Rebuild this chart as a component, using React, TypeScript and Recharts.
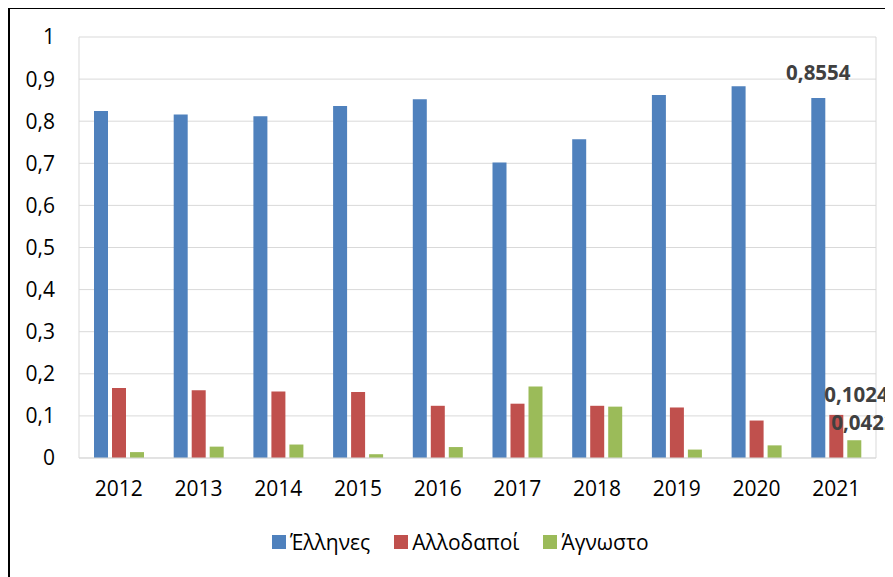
import { Bar, BarChart, CartesianGrid, LabelList, XAxis, YAxis } from 'recharts';

const years = ['2012', '2013', '2014', '2015', '2016', '2017', '2018', '2019', '2020', '2021'];
const greeks = [0.824, 0.816, 0.812, 0.836, 0.852, 0.702, 0.757, 0.862, 0.883, 0.8554];
const foreigners = [0.166, 0.161, 0.158, 0.157, 0.124, 0.129, 0.124, 0.12, 0.089, 0.1024];
const unknown = [0.014, 0.027, 0.032, 0.009, 0.026, 0.17, 0.122, 0.02, 0.03, 0.0422];
const yTicks = [0, 0.1, 0.2, 0.3, 0.4, 0.5, 0.6, 0.7, 0.8, 0.9, 1];

// only the last year carries a data label
const labelled = years.length - 1;

const series = [
  { key: 'greeks', label: 'Έλληνες', color: '#4f81bd', dx: 0, dy: -26, anchor: 'middle' },
  { key: 'foreigners', label: 'Αλλοδαποί', color: '#c0504d', dx: -5, dy: -21, anchor: 'start' },
  { key: 'unknown', label: 'Άγνωστο', color: '#9bbb59', dx: -16, dy: -18, anchor: 'start' },
];

const data = years.map((year, i) => ({
  year,
  greeks: greeks[i],
  foreigners: foreigners[i],
  unknown: unknown[i],
  greeksLabel: i === labelled ? greeks[i] : null,
  foreignersLabel: i === labelled ? foreigners[i] : null,
  unknownLabel: i === labelled ? unknown[i] : null,
}));

const fmt = (v: number) => String(v).replace('.', ',');

function makeLabel(dx: number, dy: number, anchor: string) {
  return (props: any) => {
    if (props.value == null) return null;
    const vb = props.viewBox ?? props;
    const x = anchor === 'middle' ? vb.x + vb.width / 2 + dx : vb.x + dx;
    return (
      <text x={x} y={vb.y + dy} textAnchor={anchor} dominantBaseline="central" fill="#404040" fontSize={20.5} fontWeight={700}>
        {fmt(props.value)}
      </text>
    );
  };
}

export default function App() {
  return (
    <div style={{ position: 'relative', marginTop: -1, width: 883, height: 568, borderLeft: '2px solid #000', borderTop: '2px solid #000', fontFamily: '"Open Sans", sans-serif', overflow: 'hidden' }}>
      <BarChart width={883} height={568} data={data} margin={{ top: 28, right: 0, left: 0, bottom: 0 }} barSize={14} barGap={4}>
        <CartesianGrid yAxisId="left" stroke="#d9d9d9" vertical={false} />
        <XAxis dataKey="year" stroke="#d9d9d9" tickLine={false} height={119} tickMargin={17} tick={{ fill: '#000', fontSize: 21 }} />
        <YAxis yAxisId="left" domain={[0, 1]} ticks={yTicks} stroke="#d9d9d9" tickLine={false} width={69} tickMargin={18} tickFormatter={fmt} tick={{ fill: '#000', fontSize: 21 }} />
        <YAxis yAxisId="right" orientation="right" domain={[0, 1]} ticks={yTicks} stroke="#d9d9d9" tickLine={false} tick={false} width={17} />
        {series.map(s => (
          <Bar key={s.key} yAxisId="left" dataKey={s.key} name={s.label} fill={s.color} isAnimationActive={false}>
            <LabelList dataKey={`${s.key}Label`} content={makeLabel(s.dx, s.dy, s.anchor)} />
          </Bar>
        ))}
      </BarChart>
      <div style={{ position: 'absolute', left: 262, top: 522, height: 22, display: 'flex', alignItems: 'center', gap: 24, fontSize: 21, color: '#000' }}>
        {series.map(s => (
          <div key={s.key} style={{ display: 'flex', alignItems: 'center', gap: 4 }}>
            <span style={{ width: 14, height: 14, background: s.color, display: 'inline-block' }} />
            <span>{s.label}</span>
          </div>
        ))}
      </div>
    </div>
  );
}
